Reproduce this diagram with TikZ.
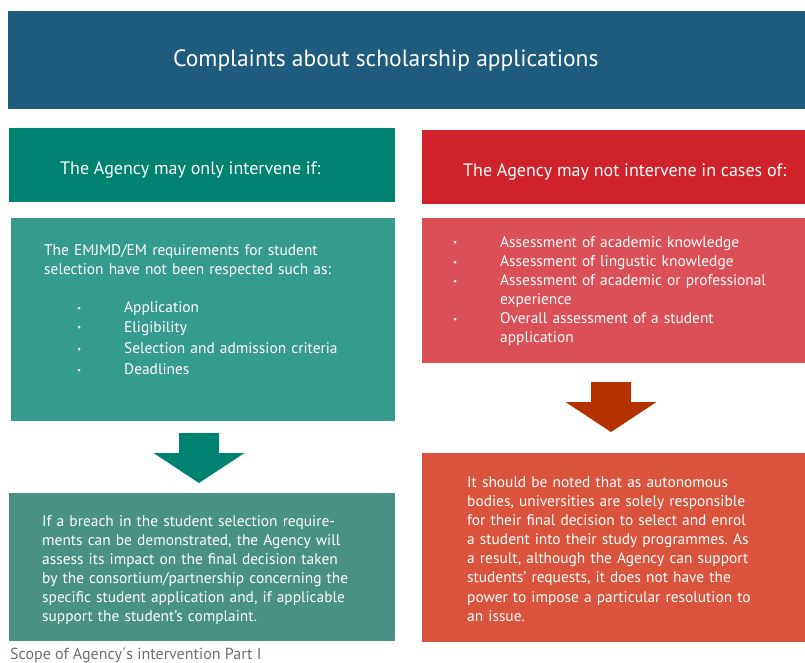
\documentclass[tikz,border=0pt]{standalone}
\usepackage{fontspec}
\setmainfont{PT Sans}
\definecolor{titleblue}{RGB}{30,91,125}
\definecolor{headgreen}{RGB}{0,130,112}
\definecolor{boxgreen}{RGB}{53,156,141}
\definecolor{notegreen}{RGB}{73,145,130}
\definecolor{headred}{RGB}{208,34,43}
\definecolor{boxred}{RGB}{219,80,86}
\definecolor{arrowred}{RGB}{180,50,0}
\definecolor{notered}{RGB}{217,83,61}
\definecolor{captiongray}{RGB}{110,110,110}
\newcommand\listdot{\raisebox{1.5pt}{\scalebox{0.6}{\textbullet}}}
\frenchspacing

\begin{document}
\begin{tikzpicture}[x=1pt, y=-1pt,
    panel/.style={fill=#1, anchor=north west, inner sep=0pt, outer sep=0pt},
    headtext/.style={anchor=base west, inner sep=0pt, text=white, font=\fontsize{18}{21}\selectfont},
    bodytext/.style={anchor=north west, inner sep=0pt, text=white, text width=380pt, align=left,
      font=\fontsize{15.4}{19.1}\selectfont},
    pics/blockarrow/.style={code={
      \fill[#1] (-20,0) -- (20,0) -- (20,20) -- (45.5,20) -- (0,50) -- (-45.5,20) -- (-20,20) -- cycle;}}]
    \useasboundingbox (0,0) rectangle (805,663);
      % panels
      \node[panel=titleblue, minimum width=797pt, minimum height=98pt] (title) at (8,11) {};
      \node[panel=headgreen, minimum width=386pt, minimum height=74pt] (lhead) at (9,128) {};
      \node[panel=headred, minimum width=383pt, minimum height=74pt] (rhead) at (422,130) {};
      \node[panel=boxgreen, minimum width=384pt, minimum height=203pt] (lbox) at (11,218) {};
      \node[panel=boxred, minimum width=383pt, minimum height=145pt] (rbox) at (422,218) {};
      \node[panel=notegreen, minimum width=386pt, minimum height=148pt] (lnote) at (9,493) {};
      \node[panel=notered, minimum width=383pt, minimum height=189pt] (rnote) at (422,453) {};
      % arrows
      \pic at ([xshift=-4pt, yshift=-12pt]lbox.south) {blockarrow=headgreen};
      \pic at ([xshift=-2.5pt, yshift=-19pt]rbox.south) {blockarrow=arrowred};
      % texts
      \node[headtext, font=\fontsize{23.5}{27}\selectfont] (titletext) at (173,67) {Complaints about scholarship applications};
      \node[headtext] (lheadtext) at (60,175) {The Agency may only intervene if:};
      \node[headtext] (rheadtext) at (463,176.7) {The Agency may not intervene in cases of:};
      \node[bodytext] (lboxtext) at (44,241.6) {\strut The EMJMD/EM requirements for student\\
        selection have not been respected such as:\\[19.6pt]
        \hspace*{33pt}\makebox[47pt][l]{\listdot}Application\\[0.2pt]
        \hspace*{33pt}\makebox[47pt][l]{\listdot}Eligibility\\[2.2pt]
        \hspace*{33pt}\makebox[47pt][l]{\listdot}Selection and admission criteria\\[1.9pt]
        \hspace*{33pt}\makebox[47pt][l]{\listdot}Deadlines};
      \node[bodytext] (rboxtext) at (453,233.9) {\strut\makebox[47pt][l]{\listdot}Assessment of academic knowledge\\
        \makebox[47pt][l]{\listdot}Assessment of lingustic knowledge\\
        \makebox[47pt][l]{\listdot}Assessment of academic or professional\\
        \hspace*{47pt}experience\\
        \makebox[47pt][l]{\listdot}Overall assessment of a student\\
        \hspace*{47pt}application};
      \node[bodytext] (lnotetext) at (42,512.6) {\strut If a breach in the student selection require-\\
        ments can be demonstrated, the Agency will\\
        assess its impact on the final decision taken\\
        by the consortium/partnership concerning the\\
        specific student application and, if applicable\\
        support the student’s complaint.};
      \node[bodytext] (rnotetext) at (467,473.9) {\strut It should be noted that as autonomous\\
        bodies, universities are solely responsible\\
        for their final decision to select and enrol\\
        a student into their study programmes. As\\
        a result, although the Agency can support\\
        students’ requests, it does not have the\\
        power to impose a particular resolution to\\
        an issue.};
      \node[anchor=base west, inner sep=0pt, text=captiongray, font=\fontsize{16}{19}\selectfont] (caption) at (10,659) {Scope of Agency´s intervention Part I};
    \end{tikzpicture}
\end{document}
